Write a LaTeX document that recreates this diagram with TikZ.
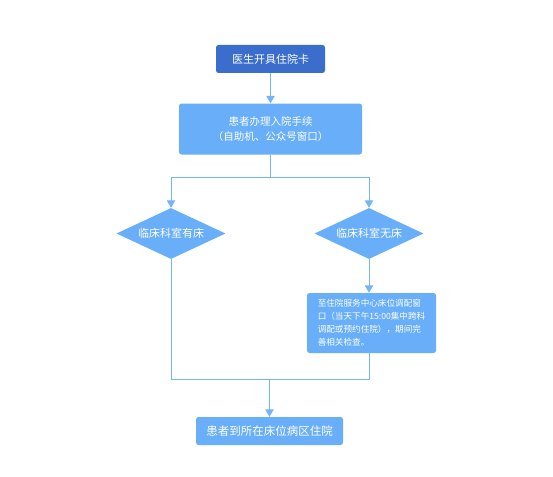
\documentclass[tikz,border=0pt]{standalone}
\usepackage{fontspec}
\setmainfont{Noto Sans CJK SC}
\usetikzlibrary{shapes.geometric,arrows.meta}
\definecolor{darkbox}{HTML}{3B6ECC}
\definecolor{lightbox}{HTML}{68AEF9}
\definecolor{lineblue}{HTML}{74B5F7}
\begin{document}
\begin{tikzpicture}[x=1pt,y=1pt,
  box/.style={rectangle,rounded corners=2.5pt,fill=lightbox,text=white,inner sep=0pt,align=center,font=\fontsize{10.5}{15}\selectfont},
  dia/.style={diamond,aspect=2.1,fill=lightbox,text=white,inner sep=0pt,minimum width=109pt,minimum height=51pt,font=\fontsize{11}{13}\selectfont},
  conn/.style={draw=lineblue,line width=0.9pt},
  arr/.style={conn,-{Triangle[width=8.5pt,length=7.5pt]}}]
\useasboundingbox (0,0) rectangle (553,-476);
\node[box,fill=darkbox,minimum width=109pt,minimum height=28pt,font=\fontsize{11}{13}\selectfont] (b1) at (270.5,-59) {医生开具住院卡};
\node[box,minimum width=183pt,minimum height=51pt] (b2) at (270.5,-129) {患者办理入院手续\\（自助机、公众号窗口）};
\node[dia] (d1) at (171,-233.5) {临床科室有床};
\node[dia] (d2) at (369,-233.5) {临床科室无床};
\node[box,minimum width=129pt,minimum height=60pt,align=left,font=\fontsize{8.6}{13}\selectfont] (b3) at (371.5,-323) {至住院服务中心床位调配窗\\口（当天下午15:00集中跨科\\调配或预约住院），期间完\\善相关检查。};
\node[box,minimum width=147pt,minimum height=28pt,font=\fontsize{11.5}{13}\selectfont] (b4) at (269.5,-431) {患者到所在床位病区住院};
\coordinate (split) at (270.5,-177);
\coordinate (join) at (269.5,-379);
\draw[arr] (b1) -- (b2);
\draw[conn] (b2.south) -- (split);
\draw[arr] (split) -| (d1.north);
\draw[arr] (split) -| (d2.north);
\draw[arr] (d2.south) -- (d2.south |- b3.north);
\draw[conn] (d1.south) |- (join);
\draw[conn] (d2.south |- b3.south) |- (join);
\draw[arr] (join) -- (b4.north);
\end{tikzpicture}
\end{document}
